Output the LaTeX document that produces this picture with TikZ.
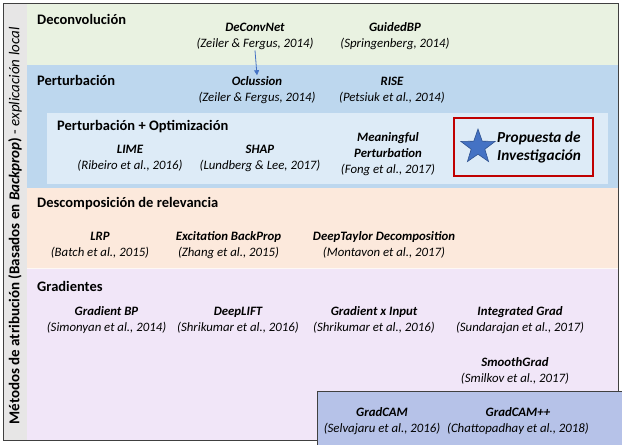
\documentclass[tikz,border=0pt]{standalone}
\usepackage{fontspec}
\setmainfont{Carlito}
\usetikzlibrary{shapes.geometric,arrows.meta}
\definecolor{frame}{HTML}{404040}
\definecolor{sidegray}{HTML}{E7E6E6}
\definecolor{deconv}{HTML}{E9F2E1}
\definecolor{pert}{HTML}{BDD7EE}
\definecolor{pertopt}{HTML}{DDEBF7}
\definecolor{relev}{HTML}{FCE9DC}
\definecolor{grad}{HTML}{F1E6F8}
\definecolor{cam}{HTML}{B6C2E8}
\definecolor{accent}{HTML}{4472C4}
\definecolor{accentdark}{HTML}{2F528F}
\definecolor{propred}{HTML}{C00000}
\tikzset{
  band title/.style={anchor=west, inner sep=0pt, font=\fontsize{14.5}{16}\selectfont\bfseries},
  method/.style={align=center, inner sep=1pt, font=\fontsize{12.8}{16}\selectfont\itshape},
}
\newcommand{\mname}[1]{\textbf{#1}}
\begin{document}
\begin{tikzpicture}[x=1pt,y=-1pt]
\useasboundingbox (0,0) rectangle (622,445);
% background bands
\fill[white] (0,0) rectangle (622,445);
\fill[sidegray] (3,3) rectangle (27,440);
\fill[deconv] (27,3) rectangle (618,65);
\fill[pert] (27,65) rectangle (618,188);
\fill[pertopt] (47,113) rectangle (608,184);
\fill[relev] (27,188) rectangle (618,268);
\fill[white!70!relev] (27,267.5) rectangle (618,269);
\fill[grad] (27,269) rectangle (618,440);
\draw[frame, line width=0.9pt] (3,3) rectangle (618,440);
% CAM box overlapping the bottom edge
\fill[cam] (317,391) rectangle (622,445);
\draw[frame, line width=0.9pt] (317,445) -- (317,391) -- (622,391);

% side label
\node[rotate=90, inner sep=0pt, font=\fontsize{15}{17}\selectfont] (side) at (15,226)
  {\textbf{Métodos de atribución (Basados en \textit{Backprop})} - \textit{explicación local}};

% Deconvolución
\node[band title] (tdeconv) at (37,19) {Deconvolución};
\node[method] (deconvnet) at (255,36) {\mname{DeConvNet}\\(Zeiler \& Fergus, 2014)};
\node[method] (guidedbp) at (395,36) {\mname{GuidedBP}\\(Springenberg, 2014)};

% Perturbación
\node[band title] (tpert) at (37,80) {Perturbación};
\node[method] (oclussion) at (257,90) {\mname{Oclussion}\\(Zeiler \& Fergus, 2014)};
\node[method] (rise) at (392,90) {\mname{RISE}\\(Petsiuk et al., 2014)};
\draw[accent, line width=0.8pt, -{Triangle[length=5pt,width=5pt]}] (deconvnet.south) -- (oclussion.north);

% Perturbación + Optimización
\node[band title] (tpertopt) at (57,127) {Perturbación + Optimización};
\node[method] (lime) at (130,158) {\mname{LIME}\\(Ribeiro et al., 2016)};
\node[method] (shap) at (260,158) {\mname{SHAP}\\(Lundberg \& Lee, 2017)};
\node[method] (meaningful) at (388,154.5) {\mname{Meaningful}\\\mname{Perturbation}\\(Fong et al., 2017)};
\draw[propred, line width=1.6pt] (454,118) rectangle (593,176);
\node[star, star points=5, star point ratio=2.5, minimum size=36pt, inner sep=0pt,
  fill=accent, draw=accentdark, line width=0.6pt] (star) at (478,147) {};
\node[align=left, inner sep=0pt, font=\fontsize{15.3}{18}\selectfont\bfseries\itshape, anchor=west] (proposal) at (497,147)
  {Propuesta de\\Investigación};

% Descomposición de relevancia
\node[band title] (trelev) at (37,204) {Descomposición de relevancia};
\node[method] (lrp) at (100,245) {\mname{LRP}\\(Batch et al., 2015)};
\node[method] (excitation) at (228.5,245) {\mname{Excitation BackProp}\\(Zhang et al., 2015)};
\node[method] (deeptaylor) at (384,245) {\mname{DeepTaylor Decomposition}\\(Montavon et al., 2017)};

% Gradientes
\node[band title] (tgrad) at (37,286) {Gradientes};
\node[method] (gradbp) at (106.5,320) {\mname{Gradient BP}\\(Simonyan et al., 2014)};
\node[method] (deeplift) at (238,320) {\mname{DeepLIFT}\\(Shrikumar et al., 2016)};
\node[method] (gradinput) at (374,320) {\mname{Gradient x Input}\\(Shrikumar et al., 2016)};
\node[method] (intgrad) at (520,320) {\mname{Integrated Grad}\\(Sundarajan et al., 2017)};
\node[method] (smoothgrad) at (515,371) {\mname{SmoothGrad}\\(Smilkov et al., 2017)};
\node[method] (gradcam) at (382,421) {\mname{GradCAM}\\(Selvajaru et al., 2016)};
\node[method] (gradcampp) at (518,421) {\mname{GradCAM++}\\(Chattopadhay et al., 2018)};
\end{tikzpicture}
\end{document}
